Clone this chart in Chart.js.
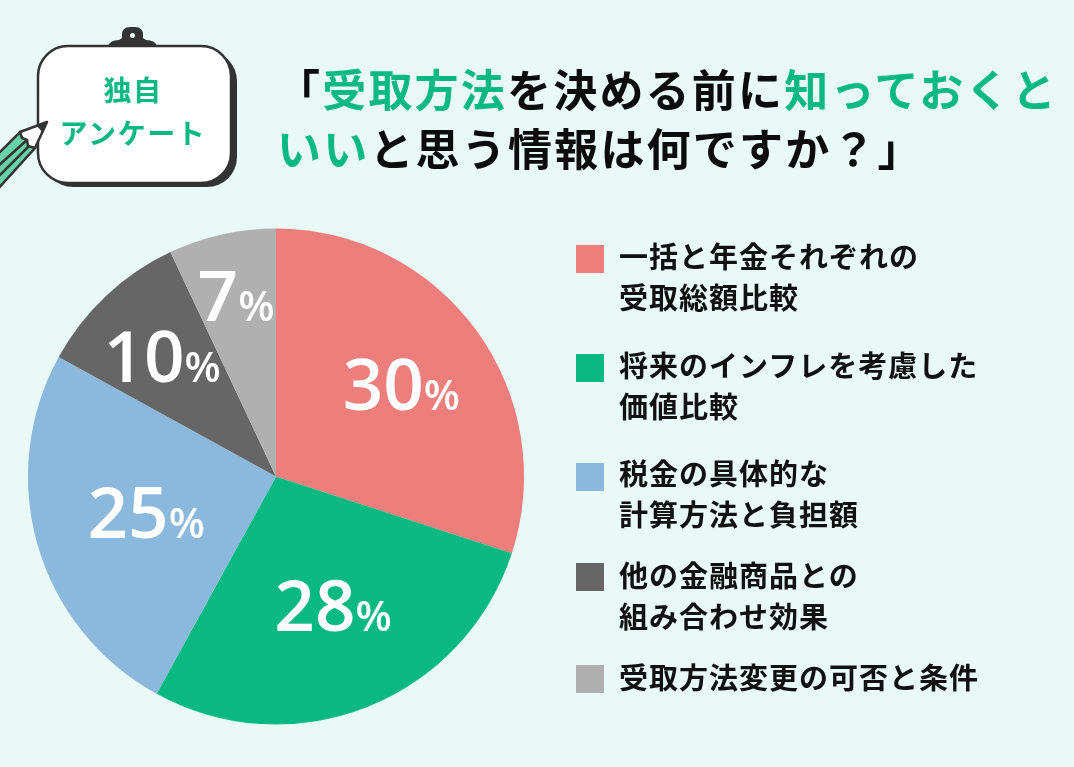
<!DOCTYPE html>
<html lang="ja">
<head>
<meta charset="utf-8">
<script src="https://cdn.jsdelivr.net/npm/chart.js@4"></script>
<style>
    html, body { margin: 0; padding: 0; }
    body {
        width: 1074px;
        height: 767px;
        overflow: hidden;
        position: relative;
        background: #e9f9f5;
        font-family: "Noto Sans CJK JP", sans-serif;
    }
    #grafica { position: absolute; left: 0; top: 0; }
    svg { position: absolute; left: 0; top: 0; }
    .badge {
        position: absolute;
        left: 38px;
        width: 190px;
        text-align: center;
        color: #0ab981;
        font-weight: 700;
        font-size: 28px;
        line-height: 36px;
        letter-spacing: 1.6px;
    }
    .titulo {
        position: absolute;
        white-space: nowrap;
        font-weight: 700;
        font-size: 44px;
        line-height: 56px;
        letter-spacing: 2.2px;
        color: #0c0c0c;
    }
    .titulo b { color: #0ab981; font-weight: 700; }
    .cuadro { position: absolute; left: 576px; width: 28px; height: 28px; }
    .texto {
        position: absolute;
        left: 619px;
        white-space: nowrap;
        font-weight: 700;
        font-size: 29px;
        line-height: 41px;
        letter-spacing: 1px;
        color: #111111;
    }
</style>
</head>
<body>
<canvas id="grafica" width="1074" height="767"></canvas>

<svg width="1074" height="767">
    <!-- clip -->
    <path d="M108 46 Q110 40 119 40 L122 38 L122 35 Q122 27 130 27 L135 27 Q143 27 143 35 L143 38 L146 40 Q155 40 157 46 Z" fill="#333333"/>
    <circle cx="132.500" cy="35.500" r="2.500" fill="#e9f9f5"/>
    <!-- board -->
    <rect x="43" y="51" width="194" height="136" rx="30" fill="#333333"/>
    <rect x="38" y="46" width="193" height="137" rx="30" fill="#ffffff" stroke="#333333" stroke-width="2.500"/>
    <!-- pencil -->
    <polygon points="20,132 35,148 -4,191 -20,172" fill="#67d2ab" stroke="#333333" stroke-width="2.500"/>
    <line x1="27" y1="140" x2="-3" y2="167" stroke="#333333" stroke-width="2.500"/>
    <line x1="29" y1="146" x2="-3" y2="178" stroke="#333333" stroke-width="2.500"/>
    <polygon points="47,122 35,148 28,146 27,140 22,138 20,132" fill="#ffffff" stroke="#333333" stroke-width="2.500" stroke-linejoin="round"/>
    <polygon points="47,122 43,133 37,126" fill="#333333"/>
</svg>

<div class="badge" style="top:71px">独自</div>
<div class="badge" style="top:114px">アンケート</div>

<div class="titulo" style="left:276px;top:60px">「<b>受取方法</b>を決める前に<b>知っておくと</b></div>
<div class="titulo" style="left:277px;top:119px"><b>いい</b>と思う情報は何ですか？」</div>

<div id="leyenda"></div>

<script>
const categorias = [
    ["一括と年金それぞれの", "受取総額比較"],
    ["将来のインフレを考慮した", "価値比較"],
    ["税金の具体的な", "計算方法と負担額"],
    ["他の金融商品との", "組み合わせ効果"],
    ["受取方法変更の可否と条件"]
];
const porcentajes = [30, 28, 25, 10, 7];
const colores = ["#ee7e7b", "#0ab981", "#8bb8dd", "#666666", "#b0b0b0"];

// how far out each label sits, as a share of the radius, plus a small sideways nudge
const radioEtiqueta = [0.62, 0.57, 0.545, 0.653, 0.74];
const ajusteX = [1, 5, 0, -3, 0];
const cuadroY = [245, 354, 463, 563, 665];
const textoY = [235, 344, 452, 554, 656];

const etiquetas = {
    id: 'etiquetas',
    afterDatasetsDraw(chart) {
        const ctx = chart.ctx;
        chart.getDatasetMeta(0).data.forEach((arco, i) => {
            const medio = (arco.startAngle + arco.endAngle) / 2;
            const r = arco.outerRadius * radioEtiqueta[i];
            const x = arco.x + Math.cos(medio) * r + ajusteX[i];
            const y = arco.y + Math.sin(medio) * r;
            const numero = String(porcentajes[i]);

            ctx.save();
            ctx.fillStyle = '#ffffff';
            ctx.textBaseline = 'alphabetic';
            ctx.textAlign = 'left';
            ctx.font = '600 71px "Open Sans"';
            const anchoNumero = ctx.measureText(numero).width;
            ctx.font = '600 42px "Open Sans"';
            const anchoPct = ctx.measureText('%').width;
            const inicio = x - (anchoNumero + anchoPct) / 2;
            ctx.font = '600 71px "Open Sans"';
            ctx.fillText(numero, inicio, y + 23.5);
            ctx.font = '600 42px "Open Sans"';
            ctx.fillText('%', inicio + anchoNumero, y + 23.5);
            ctx.restore();
        });
    }
};

function crearLeyenda() {
    const leyenda = document.getElementById('leyenda');
    categorias.forEach((lineas, i) => {
        const cuadro = document.createElement('div');
        cuadro.className = 'cuadro';
        cuadro.style.top = cuadroY[i] + 'px';
        cuadro.style.background = colores[i];
        leyenda.appendChild(cuadro);

        const texto = document.createElement('div');
        texto.className = 'texto';
        texto.style.top = textoY[i] + 'px';
        texto.innerHTML = lineas.join('<br>');
        leyenda.appendChild(texto);
    });
}

window.onload = function () {
    crearLeyenda();

    const ctx = document.getElementById('grafica').getContext('2d');

    new Chart(ctx, {
        type: 'pie',
        data: {
            labels: categorias.map(l => l.join('')),
            datasets: [{
                data: porcentajes,
                backgroundColor: colores,
                borderWidth: 0
            }]
        },
        options: {
            responsive: false,
            animation: false,
            layout: {
                padding: { left: 28, top: 228, right: 550, bottom: 42 }
            },
            plugins: {
                legend: { display: false },
                tooltip: { enabled: false }
            }
        },
        plugins: [etiquetas]
    });
};
</script>
</body>
</html>
